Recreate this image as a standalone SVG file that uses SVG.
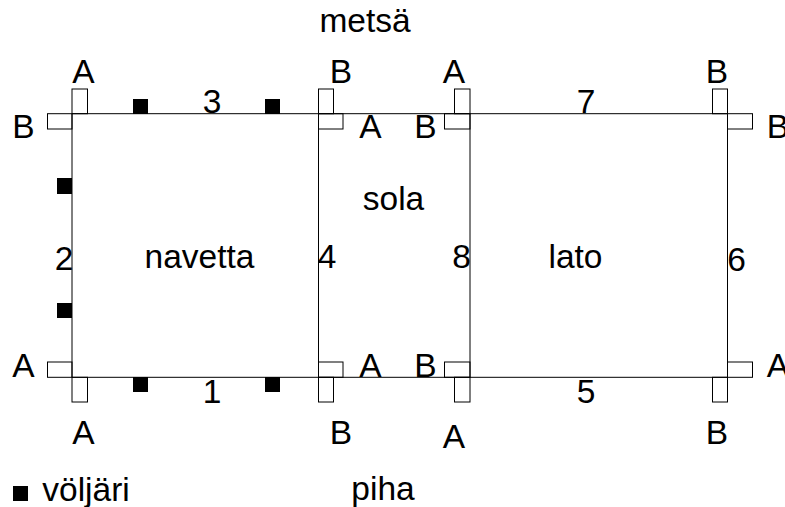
<svg xmlns="http://www.w3.org/2000/svg" width="785" height="507" viewBox="0 0 785 507">
<style>
text{font-family:"Liberation Sans",Arial,sans-serif;font-size:33.5px;fill:#000;text-anchor:middle}
.r{fill:none;stroke:#000;stroke-width:1}
.l{fill:none;stroke:#000;stroke-width:1}
.k{fill:#000;stroke:none}
</style>
<rect width="785" height="507" fill="#fff"/>
<g id="connectors">
<path class="l" d="M72 113.700H727.500M72 377.300H727.500M72 113.700V377.300M318.500 113.700V377.300M470 113.700V377.300M727.500 113.700V377.300"/>
</g>
<g id="doors">
<rect class="r" x="72" y="89" width="15.500" height="24.700"/>
<rect class="r" x="47.500" y="113.700" width="24.500" height="15.300"/>
<rect class="r" x="318.500" y="89" width="15" height="24.700"/>
<rect class="r" x="318.500" y="113.700" width="24.500" height="15.300"/>
<rect class="r" x="454.500" y="89" width="15.500" height="24.700"/>
<rect class="r" x="444.500" y="113.700" width="25.500" height="15.300"/>
<rect class="r" x="712.500" y="89" width="15" height="24.700"/>
<rect class="r" x="727.500" y="113.700" width="25" height="15.300"/>
<rect class="r" x="47.500" y="362" width="24.500" height="15.300"/>
<rect class="r" x="72" y="377.300" width="15.500" height="24.700"/>
<rect class="r" x="318.500" y="362" width="24.500" height="15.300"/>
<rect class="r" x="318.500" y="377.300" width="15" height="24.700"/>
<rect class="r" x="444.500" y="362" width="25.500" height="15.300"/>
<rect class="r" x="454.500" y="377.300" width="15.500" height="24.700"/>
<rect class="r" x="727.500" y="362" width="25" height="15.300"/>
<rect class="r" x="712.500" y="377.300" width="15" height="24.700"/>
</g>
<g id="voljarit">
<rect class="k" x="133" y="99" width="15" height="15"/>
<rect class="k" x="265" y="99" width="15" height="15"/>
<rect class="k" x="57" y="178" width="15" height="16"/>
<rect class="k" x="57" y="303" width="15" height="15"/>
<rect class="k" x="133" y="377" width="15" height="15"/>
<rect class="k" x="265" y="377" width="15" height="15"/>
<rect class="k" x="13" y="486" width="15" height="15"/>
</g>
<g id="navetta"><text x="199.500" y="267.500">navetta</text></g>
<g id="sola"><text x="393.500" y="210">sola</text></g>
<g id="lato"><text x="575.500" y="268">lato</text></g>
<g id="labels">
<text x="365" y="32">metsä</text>
<text x="383" y="500">piha</text>
<text x="86" y="501">völjäri</text>
<text x="83.500" y="83">A</text><text x="341" y="83">B</text><text x="454" y="83">A</text><text x="717" y="83">B</text>
<text x="23.500" y="138">B</text><text x="370.500" y="138">A</text><text x="425.500" y="138">B</text><text x="778" y="138">B</text>
<text x="23.500" y="376.500">A</text><text x="370.500" y="376.500">A</text><text x="425.500" y="376.500">B</text><text x="778" y="376.500">A</text>
<text x="83.500" y="443.500">A</text><text x="341" y="443.500">B</text><text x="454" y="447.500">A</text><text x="717" y="443.500">B</text>
<text x="212" y="113">3</text><text x="586" y="113">7</text>
<text x="64" y="270">2</text><text x="327" y="267.500">4</text><text x="461.500" y="268">8</text><text x="736.500" y="271">6</text>
<text x="212" y="403">1</text><text x="586" y="403">5</text>
</g>
</svg>
